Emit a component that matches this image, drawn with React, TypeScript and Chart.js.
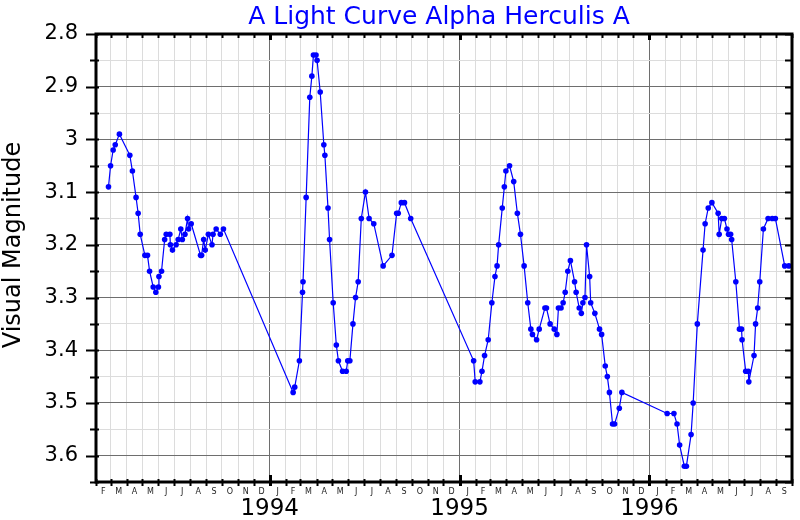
import React, { useEffect, useRef } from 'react';
import { Chart, registerables } from 'chart.js';

Chart.register(...registerables);

// ---------- data ----------
const chartTitle = 'A Light Curve Alpha Herculis A';
const yAxisTitle = 'Visual Magnitude';
const axisStart = '1993-02-01';
const axisEnd = '1996-10-01';
const yMin = 2.8;
const yMax = 3.65;
const monthLetters = ['J', 'F', 'M', 'A', 'M', 'J', 'J', 'A', 'S', 'O', 'N', 'D'];
const yearLabels = ['1994', '1995', '1996'];

const dates1993 = [
  '1993-02-25', '1993-03-01', '1993-03-06', '1993-03-10', '1993-03-18', '1993-04-07', '1993-04-12',
  '1993-04-19', '1993-04-23', '1993-04-27', '1993-05-06', '1993-05-11', '1993-05-15', '1993-05-22',
  '1993-05-27', '1993-06-01', '1993-06-02', '1993-06-07', '1993-06-13', '1993-06-16', '1993-06-23',
  '1993-06-24', '1993-06-28', '1993-07-05', '1993-07-09', '1993-07-14', '1993-07-17', '1993-07-22',
  '1993-07-27', '1993-07-29', '1993-08-03', '1993-08-21', '1993-08-23', '1993-08-27', '1993-08-30',
  '1993-09-05', '1993-09-12', '1993-09-14', '1993-09-20', '1993-09-28', '1993-10-04',
];
const mags1993 = [
  3.09, 3.05, 3.02, 3.01, 2.99, 3.03, 3.06,
  3.11, 3.14, 3.18, 3.22, 3.22, 3.25, 3.28,
  3.29, 3.28, 3.26, 3.25, 3.19, 3.18, 3.18,
  3.2, 3.21, 3.2, 3.19, 3.17, 3.19, 3.18,
  3.15, 3.17, 3.16, 3.22, 3.22, 3.19, 3.21,
  3.18, 3.2, 3.18, 3.17, 3.18, 3.17,
];

const dates1994 = [
  '1994-02-15', '1994-02-18', '1994-02-27', '1994-03-05', '1994-03-06', '1994-03-12', '1994-03-19',
  '1994-03-23', '1994-03-26', '1994-03-31', '1994-04-02', '1994-04-08', '1994-04-15', '1994-04-17',
  '1994-04-23', '1994-04-26', '1994-05-03', '1994-05-09', '1994-05-13', '1994-05-21', '1994-05-28',
  '1994-05-31', '1994-06-04', '1994-06-10', '1994-06-15', '1994-06-20', '1994-06-26', '1994-07-04',
  '1994-07-11', '1994-07-20', '1994-08-07', '1994-08-24', '1994-09-02', '1994-09-05', '1994-09-11',
  '1994-09-17', '1994-09-29',
];
const mags1994 = [
  3.48, 3.47, 3.42, 3.29, 3.27, 3.11, 2.92,
  2.88, 2.84, 2.84, 2.85, 2.91, 3.01, 3.03,
  3.13, 3.19, 3.31, 3.39, 3.42, 3.44, 3.44,
  3.42, 3.42, 3.35, 3.3, 3.27, 3.15, 3.1,
  3.15, 3.16, 3.24, 3.22, 3.14, 3.14, 3.12,
  3.12, 3.15,
];

const dates1995 = [
  '1995-01-28', '1995-01-31', '1995-02-09', '1995-02-13', '1995-02-18', '1995-02-25', '1995-03-04',
  '1995-03-10', '1995-03-14', '1995-03-17', '1995-03-24', '1995-03-28', '1995-03-31', '1995-04-07',
  '1995-04-15', '1995-04-22', '1995-04-28', '1995-05-05', '1995-05-12', '1995-05-18', '1995-05-21',
  '1995-05-29', '1995-06-03', '1995-06-14', '1995-06-17', '1995-06-24', '1995-07-02', '1995-07-07',
  '1995-07-10', '1995-07-15', '1995-07-19', '1995-07-23', '1995-07-28', '1995-08-02', '1995-08-10',
  '1995-08-13', '1995-08-19', '1995-08-23', '1995-08-26', '1995-08-30', '1995-09-02', '1995-09-08',
  '1995-09-10', '1995-09-18', '1995-09-27', '1995-10-01', '1995-10-08', '1995-10-12', '1995-10-16',
  '1995-10-22', '1995-10-26', '1995-11-04', '1995-11-09',
];
const mags1995 = [
  3.42, 3.46, 3.46, 3.44, 3.41, 3.38, 3.31,
  3.26, 3.24, 3.2, 3.13, 3.09, 3.06, 3.05,
  3.08, 3.14, 3.18, 3.24, 3.31, 3.36, 3.37,
  3.38, 3.36, 3.32, 3.32, 3.35, 3.36, 3.37,
  3.32, 3.32, 3.31, 3.29, 3.25, 3.23, 3.27,
  3.29, 3.32, 3.33, 3.31, 3.3, 3.2, 3.26,
  3.31, 3.33, 3.36, 3.37, 3.43, 3.45, 3.48,
  3.54, 3.54, 3.51, 3.48,
];

const dates1996 = [
  '1996-02-04', '1996-02-17', '1996-02-23', '1996-02-28', '1996-03-08', '1996-03-12', '1996-03-21',
  '1996-03-25', '1996-04-02', '1996-04-13', '1996-04-17', '1996-04-23', '1996-04-30', '1996-05-12',
  '1996-05-14', '1996-05-19', '1996-05-24', '1996-05-29', '1996-06-01', '1996-06-05', '1996-06-07',
  '1996-06-15', '1996-06-22', '1996-06-26', '1996-06-27', '1996-07-04', '1996-07-09', '1996-07-10',
  '1996-07-20', '1996-07-23', '1996-07-27', '1996-07-31', '1996-08-07', '1996-08-16', '1996-08-24',
  '1996-08-30', '1996-09-17', '1996-09-25',
];
const mags1996 = [
  3.52, 3.52, 3.54, 3.58, 3.62, 3.62, 3.56,
  3.5, 3.35, 3.21, 3.16, 3.13, 3.12, 3.14,
  3.18, 3.15, 3.15, 3.17, 3.18, 3.18, 3.19,
  3.27, 3.36, 3.36, 3.38, 3.44, 3.44, 3.46,
  3.41, 3.35, 3.32, 3.27, 3.17, 3.15, 3.15,
  3.15, 3.24, 3.24,
];

// ---------- helpers ----------
const EPOCH = Date.UTC(1993, 0, 1);
function dayNum(s: string): number {
  const [y, m, d] = s.split('-').map(Number);
  return (Date.UTC(y, m - 1, d) - EPOCH) / 86400000;
}
function monthDay(y: number, m: number): number {
  return (Date.UTC(y, m, 1) - EPOCH) / 86400000;
}

const xMin = dayNum(axisStart);
const xMax = dayNum(axisEnd);

// month boundaries between start and end
const monthBounds: { value: number; month: number; year: number }[] = [];
{
  const [sy, sm] = axisStart.split('-').map(Number);
  let y = sy;
  let m = sm - 1;
  while (true) {
    const v = monthDay(y, m);
    if (v > xMax) break;
    monthBounds.push({ value: v, month: m, year: y });
    m++;
    if (m > 11) {
      m = 0;
      y++;
    }
  }
}
const yearStartValues = new Set(monthBounds.filter((b) => b.month === 0).map((b) => b.value));

const yTicks: number[] = [];
for (let i = 0; i <= Math.round((yMax - yMin) / 0.05); i++) {
  yTicks.push(Math.round((yMin + i * 0.05) * 100) / 100);
}
const isMajorY = (v: number) => Math.abs(v * 10 - Math.round(v * 10)) < 1e-6;

const FONT = "'DejaVu Sans', sans-serif";

const decorPlugin = {
  id: 'decor',
  afterDraw(chart: any) {
    const { ctx, chartArea: a, scales } = chart;
    const xs = scales.x;
    const ys = scales.y;
    ctx.save();

    // frame
    ctx.strokeStyle = '#000';
    ctx.lineWidth = 3;
    ctx.strokeRect(a.left, a.top, a.right - a.left, a.bottom - a.top);

    // y ticks (left outward+inward, right inward)
    ctx.lineWidth = 2;
    yTicks.forEach((v) => {
      const py = Math.round(ys.getPixelForValue(v)) + 0.5;
      const major = isMajorY(v);
      ctx.beginPath();
      ctx.moveTo(a.left - (major ? 10 : 6), py);
      ctx.lineTo(a.left + 3, py);
      ctx.moveTo(a.right + 1, py);
      ctx.lineTo(a.right - 7, py);
      ctx.stroke();
    });

    // x ticks
    monthBounds.forEach((b) => {
      const px = Math.round(xs.getPixelForValue(b.value)) + 0.5;
      const yr = b.month === 0;
      ctx.lineWidth = yr ? 3 : 2;
      ctx.beginPath();
      ctx.moveTo(px, a.bottom - (yr ? 7 : 3));
      ctx.lineTo(px, a.bottom + 4);
      ctx.moveTo(px, a.top);
      ctx.lineTo(px, a.top + (yr ? 6 : 4));
      ctx.stroke();
    });

    // month letters
    ctx.fillStyle = '#222';
    ctx.font = `8px ${FONT}`;
    ctx.textAlign = 'center';
    ctx.textBaseline = 'middle';
    for (let i = 0; i < monthBounds.length - 1; i++) {
      const mid = (monthBounds[i].value + monthBounds[i + 1].value) / 2;
      ctx.fillText(monthLetters[monthBounds[i].month], xs.getPixelForValue(mid), a.bottom + 10);
    }

    // year labels
    ctx.fillStyle = '#000';
    ctx.font = `23px ${FONT}`;
    ctx.textBaseline = 'alphabetic';
    yearLabels.forEach((label) => {
      const v = monthDay(Number(label), 0);
      ctx.fillText(label, xs.getPixelForValue(v), a.bottom + 33);
    });

    // title
    ctx.fillStyle = '#0000ff';
    ctx.font = `25px ${FONT}`;
    ctx.fillText(chartTitle, (a.left + a.right) / 2 - 5, 24);

    // y axis title
    ctx.fillStyle = '#000';
    ctx.font = `24px ${FONT}`;
    ctx.translate(14, 245);
    ctx.rotate(-Math.PI / 2);
    ctx.textBaseline = 'middle';
    ctx.fillText(yAxisTitle, 0, 0);

    ctx.restore();
  },
};

export default function App() {
  const ref = useRef<HTMLCanvasElement>(null);

  useEffect(() => {
    if (!ref.current) return;
    const dates = [...dates1993, ...dates1994, ...dates1995, ...dates1996];
    const mags = [...mags1993, ...mags1994, ...mags1995, ...mags1996];
    const points = dates.map((d, i) => ({ x: dayNum(d), y: mags[i] }));

    const chart = new Chart(ref.current, {
      type: 'line',
      data: {
        datasets: [
          {
            data: points,
            borderColor: '#0000ff',
            backgroundColor: '#0000ff',
            borderWidth: 1.2,
            pointRadius: 2.8,
            pointBorderWidth: 0,
            pointBackgroundColor: '#0000ff',
            tension: 0,
          },
        ],
      },
      options: {
        responsive: false,
        animation: false,
        layout: { padding: { left: 0, right: 8, top: 34, bottom: 0 } },
        plugins: {
          legend: { display: false },
          tooltip: { enabled: false },
          title: { display: false },
        },
        scales: {
          x: {
            type: 'linear',
            min: xMin,
            max: xMax,
            afterBuildTicks: (s: any) => {
              s.ticks = monthBounds.map((b) => ({ value: b.value }));
            },
            afterFit: (s: any) => {
              s.height = 38;
            },
            ticks: { display: false },
            grid: {
              drawTicks: false,
              lineWidth: 1,
              color: (c: any) => (c.tick && yearStartValues.has(c.tick.value) ? '#6e6e6e' : '#dcdcdc'),
            },
            border: { display: false },
          },
          y: {
            type: 'linear',
            reverse: true,
            min: yMin,
            max: yMax,
            afterBuildTicks: (s: any) => {
              s.ticks = yTicks.map((v) => ({ value: v }));
            },
            afterFit: (s: any) => {
              s.width = 96;
            },
            ticks: {
              autoSkip: false,
              padding: 18,
              color: '#000',
              font: { family: FONT, size: 21 },
              callback: (v: any) => (isMajorY(Number(v)) ? String(Number(Number(v).toFixed(1))) : ''),
            },
            grid: {
              drawTicks: false,
              lineWidth: 1,
              color: (c: any) => (c.tick && isMajorY(c.tick.value) ? '#6e6e6e' : '#dcdcdc'),
            },
            border: { display: false },
          },
        },
      },
      plugins: [decorPlugin],
    } as any);

    return () => chart.destroy();
  }, []);

  return (
    <div style={{ position: 'fixed', left: 0, top: 0, width: 800, height: 520, background: '#fff' }}>
      <canvas ref={ref} width={800} height={520} style={{ display: 'block' }} />
    </div>
  );
}
